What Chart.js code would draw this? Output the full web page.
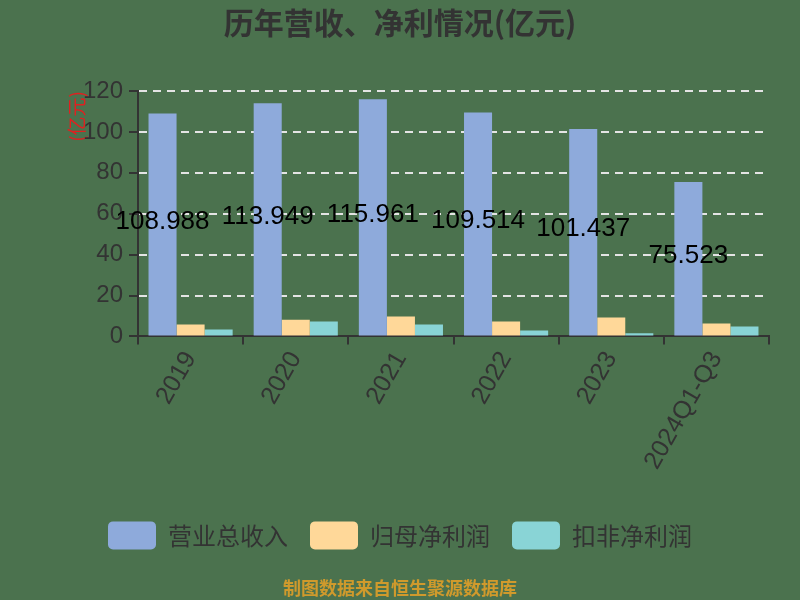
<!DOCTYPE html>
<html>
<head>
<meta charset="utf-8">
<script src="https://cdn.jsdelivr.net/npm/chart.js@4.4.1/dist/chart.umd.min.js"></script>
<style>
  html, body { margin: 0; padding: 0; background: #4b724e; }
  #wrap { width: 800px; height: 600px; }
</style>
</head>
<body>
<div id="wrap"><canvas id="chart" width="800" height="600"></canvas></div>
<script>
// Chart data
const categories = ['2019', '2020', '2021', '2022', '2023', '2024Q1-Q3'];
const revenue = [108.988, 113.949, 115.961, 109.514, 101.437, 75.523];
const netProfit = [5.8, 8.2, 9.7, 7.3, 9.2, 6.3];
const deductedProfit = [3.4, 7.3, 5.8, 2.9, 1.6, 4.8];
const seriesNames = ['营业总收入', '归母净利润', '扣非净利润'];
const yTicks = [0, 20, 40, 60, 80, 100, 120];

const COLORS = {
  bg: '#4b724e',
  revenue: '#8eaadb',
  netProfit: '#ffd899',
  deducted: '#89d4d6',
  text: '#333333',
  grid: '#e4e4e4',
  unit: '#e02020',
  source: '#d09a2c'
};

// Fill the canvas background
const bgPlugin = {
  id: 'bg',
  beforeDraw(chart) {
    const ctx = chart.ctx;
    ctx.save();
    ctx.fillStyle = COLORS.bg;
    ctx.fillRect(0, 0, chart.width, chart.height);
    ctx.restore();
  }
};

// Revenue values written in the middle of the blue bars
const valueLabels = {
  id: 'valueLabels',
  afterDatasetsDraw(chart) {
    const ctx = chart.ctx;
    const meta = chart.getDatasetMeta(0);
    ctx.save();
    ctx.font = '26px "Liberation Sans", Arial, sans-serif';
    ctx.fillStyle = '#000000';
    ctx.textAlign = 'center';
    ctx.textBaseline = 'middle';
    meta.data.forEach((bar, i) => {
      const mid = (bar.y + bar.base) / 2;
      ctx.fillText(revenue[i].toFixed(3), bar.x, mid - 3);
    });
    ctx.restore();
  }
};

new Chart(document.getElementById('chart'), {
  type: 'bar',
  data: {
    labels: categories,
    datasets: [
      { label: seriesNames[0], data: revenue, backgroundColor: COLORS.revenue },
      { label: seriesNames[1], data: netProfit, backgroundColor: COLORS.netProfit },
      { label: seriesNames[2], data: deductedProfit, backgroundColor: COLORS.deducted }
    ]
  },
  options: {
    responsive: false,
    animation: false,
    devicePixelRatio: 1,
    layout: { padding: { left: 31, right: 31, top: 5, bottom: 0 } },
    datasets: {
      bar: { categoryPercentage: 0.8, barPercentage: 1.0, borderWidth: 0 }
    },
    scales: {
      x: {
        offset: true,
        grid: {
          offset: true,
          drawOnChartArea: false,
          drawTicks: true,
          tickLength: 8,
          color: COLORS.text,
          lineWidth: 2
        },
        border: { display: true, color: COLORS.text, width: 2 },
        ticks: {
          color: COLORS.text,
          font: { size: 25, family: '"Liberation Sans", Arial, sans-serif' },
          minRotation: 60,
          maxRotation: 60,
          padding: 2
        },
        afterFit(scale) { scale.height = 163; }
      },
      y: {
        min: 0,
        max: 120,
        afterBuildTicks(scale) { scale.ticks = yTicks.map(v => ({ value: v })); },
        grid: {
          color: COLORS.grid,
          lineWidth: 2,
          tickColor: COLORS.text,
          tickLength: 9,
          tickBorderDash: []
        },
        border: { display: true, color: COLORS.text, width: 2, dash: [8, 6] },
        ticks: {
          color: COLORS.text,
          font: { size: 24, family: '"Liberation Sans", Arial, sans-serif' },
          padding: 6
        },
        title: {
          display: true,
          text: '(亿元)',
          align: 'end',
          color: COLORS.unit,
          font: { size: 19, family: '"Noto Sans CJK SC", sans-serif' },
          padding: { top: 34, bottom: 0 }
        },
        afterFit(scale) { scale.width = 107; }
      }
    },
    plugins: {
      title: {
        display: true,
        text: '历年营收、净利情况(亿元)',
        color: COLORS.text,
        font: { size: 30, weight: 'bold', family: '"Noto Sans CJK SC", sans-serif' },
        padding: { top: 0, bottom: 50 }
      },
      subtitle: {
        display: true,
        position: 'bottom',
        text: '制图数据来自恒生聚源数据库',
        color: COLORS.source,
        font: { size: 18, weight: 'bold', family: '"Noto Sans CJK SC", sans-serif' },
        padding: { top: 18, bottom: 1 }
      },
      legend: {
        position: 'bottom',
        labels: {
          color: COLORS.text,
          font: { size: 24, family: '"Noto Sans CJK SC", sans-serif' },
          boxWidth: 48,
          boxHeight: 28,
          padding: 22,
          useBorderRadius: true,
          borderRadius: 5
        }
      },
      tooltip: { enabled: false }
    }
  },
  plugins: [bgPlugin, valueLabels]
});
</script>
</body>
</html>
